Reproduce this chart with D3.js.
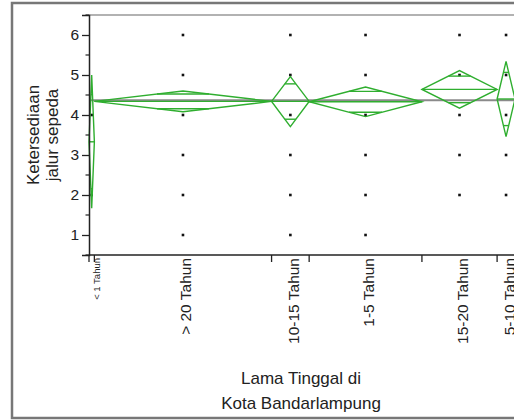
<!DOCTYPE html>
<html>
<head>
<meta charset="utf-8">
<script src="https://cdn.jsdelivr.net/npm/d3@7"></script>
<style>
  body { margin: 0; background: #fff; }
  text { font-family: "Liberation Sans", Arial, sans-serif; fill: #222; }
</style>
</head>
<body>
<script>
// Groups (Lama Tinggal), sample sizes and means diamonds
var groups = ["< 1 Tahun", "> 20 Tahun", "10-15 Tahun", "1-5 Tahun", "15-20 Tahun", "5-10 Tahun"];
var counts = [3, 99, 21, 63, 42, 10];
var means = [3.33, 4.34, 4.34, 4.33, 4.64, 4.40];
var lowerCI = [1.67, 4.08, 3.71, 3.96, 4.17, 3.46];
var upperCI = [5.00, 4.60, 4.96, 4.70, 5.11, 5.34];
// distinct response values shown as dots in each group
var pointValues = [
  [2, 4],
  [1, 2, 3, 4, 5, 6],
  [1, 2, 3, 4, 5, 6],
  [1, 2, 3, 4, 5, 6],
  [2, 3, 4, 5, 6],
  [2, 3, 4, 5, 6]
];
var grandMean = 4.37;
var yTicks = [1, 2, 3, 4, 5, 6];
var yMinorTicks = [0.5, 1.5, 2.5, 3.5, 4.5, 5.5, 6.5];

var svgWidth = 514;
var svgHeight = 420;

// plot area (right edge runs just past the window, as in the picture)
var plot = { left: 89, top: 15, right: 515, bottom: 255 };

var svg = d3.select("body")
  .append("svg")
  .attr("width", svgWidth)
  .attr("height", svgHeight);

// outer report frame
svg.append("rect")
  .attr("x", 12)
  .attr("y", 3)
  .attr("width", 520)
  .attr("height", 415)
  .attr("fill", "none")
  .attr("stroke", "#777")
  .attr("stroke-width", 2.5);

// scales: x runs over cumulative counts so every group gets a width proportional to its n
var total = d3.sum(counts);
var edges = [0].concat(Array.from(d3.cumsum(counts)));
var xScale = d3.scaleLinear()
  .domain([0, total])
  .range([plot.left, plot.right]);

var yScale = d3.scaleLinear()
  .domain([0.5, 6.5])
  .range([plot.bottom, plot.top]);

var data = groups.map(function(g, i) {
  return {
    name: g,
    x0: xScale(edges[i]),
    x1: xScale(edges[i + 1]),
    mean: means[i],
    lo: lowerCI[i],
    hi: upperCI[i],
    points: pointValues[i]
  };
});

// top frame line
svg.append("line")
  .attr("x1", plot.left).attr("x2", plot.right)
  .attr("y1", plot.top).attr("y2", plot.top)
  .attr("stroke", "#999")
  .attr("stroke-width", 1.5);

// grand mean line
svg.append("line")
  .attr("x1", plot.left).attr("x2", plot.right)
  .attr("y1", yScale(grandMean)).attr("y2", yScale(grandMean))
  .attr("stroke", "#8a8a8a")
  .attr("stroke-width", 2);

// dots
data.forEach(function(d) {
  var cx = (d.x0 + d.x1) / 2;
  svg.selectAll(null)
    .data(d.points)
    .enter()
    .append("rect")
    .attr("x", cx - 1.3)
    .attr("y", v => yScale(v) - 1.3)
    .attr("width", 2.6)
    .attr("height", 2.6)
    .attr("fill", "#111");
});

// means diamonds
var green = "#2fae2f";
var diamonds = svg.append("g")
  .attr("fill", "none")
  .attr("stroke", green)
  .attr("stroke-width", 1.4);

data.forEach(function(d) {
  var cx = (d.x0 + d.x1) / 2;
  var ym = yScale(d.mean);
  diamonds.append("path")
    .attr("d", "M" + d.x0 + "," + ym +
      "L" + cx + "," + yScale(d.hi) +
      "L" + d.x1 + "," + ym +
      "L" + cx + "," + yScale(d.lo) + "Z");
  diamonds.append("line")
    .attr("x1", d.x0).attr("x2", d.x1)
    .attr("y1", ym).attr("y2", ym);
  // overlap marks at mean +/- halfwidth / sqrt(2)
  var half = (d.x1 - d.x0) / 2 * (1 - Math.SQRT1_2);
  [d.hi, d.lo].forEach(function(b) {
    var yv = yScale(d.mean + (b - d.mean) * Math.SQRT1_2);
    diamonds.append("line")
      .attr("x1", cx - half).attr("x2", cx + half)
      .attr("y1", yv).attr("y2", yv);
  });
});

// y axis
var leftAxis = d3.axisLeft(yScale)
  .tickValues(yTicks)
  .tickSize(7)
  .tickPadding(3)
  .tickFormat(d3.format("d"));

var yAxisG = svg.append("g")
  .attr("transform", `translate(${plot.left}, 0)`)
  .call(leftAxis);
yAxisG.select(".domain").attr("stroke", "#222").attr("stroke-width", 1.5);
yAxisG.selectAll(".tick line").attr("stroke", "#222").attr("stroke-width", 1.3);
yAxisG.selectAll("text")
  .style("font-size", "15.5px")
  .style("font-family", "Liberation Sans, Arial, sans-serif")
  .attr("fill", "#222");

svg.append("g")
  .selectAll("line")
  .data(yMinorTicks)
  .enter()
  .append("line")
  .attr("x1", plot.left - 3.5).attr("x2", plot.left)
  .attr("y1", d => yScale(d)).attr("y2", d => yScale(d))
  .attr("stroke", "#222")
  .attr("stroke-width", 1.2);

// x axis: line plus ticks on group boundaries
svg.append("line")
  .attr("x1", plot.left).attr("x2", plot.right)
  .attr("y1", plot.bottom).attr("y2", plot.bottom)
  .attr("stroke", "#222")
  .attr("stroke-width", 1.5);

svg.append("g")
  .selectAll("line")
  .data(edges)
  .enter()
  .append("line")
  .attr("x1", d => xScale(d)).attr("x2", d => xScale(d))
  .attr("y1", plot.bottom).attr("y2", plot.bottom + 7)
  .attr("stroke", "#222")
  .attr("stroke-width", 1.3);

// rotated group labels
svg.append("g")
  .selectAll("text")
  .data(data)
  .enter()
  .append("text")
  .attr("transform", function(d, i) {
    var cx = (d.x0 + d.x1) / 2 + (i === 0 ? 8 : 8.5);
    return `translate(${cx}, ${plot.bottom + 3}) rotate(-90)`;
  })
  .attr("text-anchor", "end")
  .style("font-size", (d, i) => i === 0 ? "9.5px" : "15.5px")
  .text(d => d.name);

// axis titles
var yTitle = svg.append("text")
  .attr("transform", "translate(39, 135) rotate(-90)")
  .attr("text-anchor", "middle")
  .style("font-size", "17px");
yTitle.append("tspan").attr("x", 0).attr("dy", 0).text("Ketersediaan");
yTitle.append("tspan").attr("x", 0).attr("dy", 19).text("jalur sepeda");

svg.append("text")
  .attr("x", 301)
  .attr("y", 384)
  .attr("text-anchor", "middle")
  .style("font-size", "17px")
  .text("Lama Tinggal di");

svg.append("text")
  .attr("x", 301)
  .attr("y", 409)
  .attr("text-anchor", "middle")
  .style("font-size", "17px")
  .text("Kota Bandarlampung");
</script>
</body>
</html>
